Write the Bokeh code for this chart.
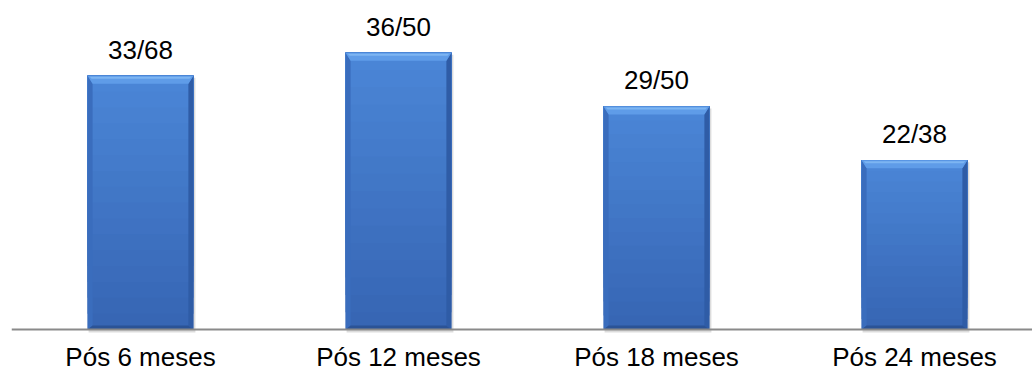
from bokeh.plotting import figure
from bokeh.models import Range1d, Span, ColumnDataSource
from bokeh.core.properties import value
from bokeh.embed import file_html
from bokeh.resources import INLINE

# Follow-up periods and counts (responders / evaluated)
categories = ["Pós 6 meses", "Pós 12 meses", "Pós 18 meses", "Pós 24 meses"]
responders = [33, 36, 29, 22]
evaluated = [68, 50, 50, 38]
value_labels = [f"{n}/{d}" for n, d in zip(responders, evaluated)]

# Layout constants (pixels)
W, H = 1032, 371
LEFT = 11
BASE_PX = 329          # pixel row of the baseline
CAT_PX = 258           # pixels per category
PX_PER_UNIT = 7.69     # vertical pixels per count
BAR_W = 0.41

xs = list(range(len(categories)))
x0 = -0.5
x1 = x0 + (W - LEFT) / CAT_PX
y0 = -(H - BASE_PX) / PX_PER_UNIT
y1 = BASE_PX / PX_PER_UNIT

p = figure(width=W, height=H, x_range=Range1d(x0, x1), y_range=Range1d(y0, y1),
           output_backend="svg", toolbar_location=None,
           x_axis_location=None, y_axis_location=None,
           min_border=0, min_border_left=LEFT)
p.grid.visible = False
p.outline_line_color = None
p.background_fill_color = "white"
p.border_fill_color = "white"

# conversions from pixels to data units for the bevel shapes
dx = 1.0 / CAT_PX
dy = 1.0 / PX_PER_UNIT
sw, tb, bb = 5 * dx, 8 * dy, 4 * dy
hw = BAR_W / 2

# soft drop shadow
p.quad(left=[x - hw + 1 * dx for x in xs], right=[x + hw + 2 * dx for x in xs],
       top=[v - 2 * dy for v in responders], bottom=[-3 * dy] * len(xs),
       fill_color="#8a8a8a", fill_alpha=0.3, line_color=None)

# bar face with a vertical gradient (lighter at the top); each band runs to the
# bar top so the next band covers it without seams
top_c = (0x4B, 0x86, 0xD7)
bot_c = (0x36, 0x65, 0xB3)
N = 16
for i in range(N):
    f0 = i / N
    t = (i + 0.5) / N
    c = "#%02x%02x%02x" % tuple(int(round(b + (a - b) * t)) for a, b in zip(top_c, bot_c))
    p.quad(left=[x - hw for x in xs], right=[x + hw for x in xs],
           bottom=[v * f0 for v in responders], top=responders,
           fill_color=c, line_color=None)

def bevel(pts_fn, color):
    src = ColumnDataSource(dict(
        xs=[pts_fn(x, v)[0] for x, v in zip(xs, responders)],
        ys=[pts_fn(x, v)[1] for x, v in zip(xs, responders)]))
    p.patches("xs", "ys", source=src, fill_color=color, line_color=None)

# left edge
bevel(lambda x, v: ([x - hw, x - hw + sw, x - hw + sw, x - hw],
                    [v, v - tb, bb, 0]), "#3a6dbd")
# right edge
bevel(lambda x, v: ([x + hw, x + hw - sw, x + hw - sw, x + hw],
                    [v, v - tb, bb, 0]), "#2f5ca6")
# bottom edge
bevel(lambda x, v: ([x - hw, x + hw, x + hw - sw, x - hw + sw],
                    [0, 0, bb, bb]), "#2b5396")
# top edge highlight
bevel(lambda x, v: ([x - hw, x + hw, x + hw - sw, x - hw + sw],
                    [v, v, v - tb, v - tb]), "#5f9ce8")
bevel(lambda x, v: ([x - hw + 2 * dx, x + hw - 2 * dx, x + hw - 4 * dx, x - hw + 4 * dx],
                    [v - dy, v - dy, v - 3 * dy, v - 3 * dy]), "#7db5f2")

# baseline
p.add_layout(Span(location=0, dimension="width", line_color="#8a8a8a", line_width=2))

# value labels above bars
p.text(x=xs, y=responders, text=value_labels, text_align="center",
       text_baseline="alphabetic", y_offset=-26,
       text_font=value("Liberation Sans"), text_font_size="26px", text_color="#000000")

# category labels below the baseline
p.text(x=xs, y=[0] * len(xs), text=categories, text_align="center",
       text_baseline="alphabetic", y_offset=27,
       text_font=value("Liberation Sans"), text_font_size="26px", text_color="#000000")

open("out.html", "w").write(file_html(p, INLINE))
